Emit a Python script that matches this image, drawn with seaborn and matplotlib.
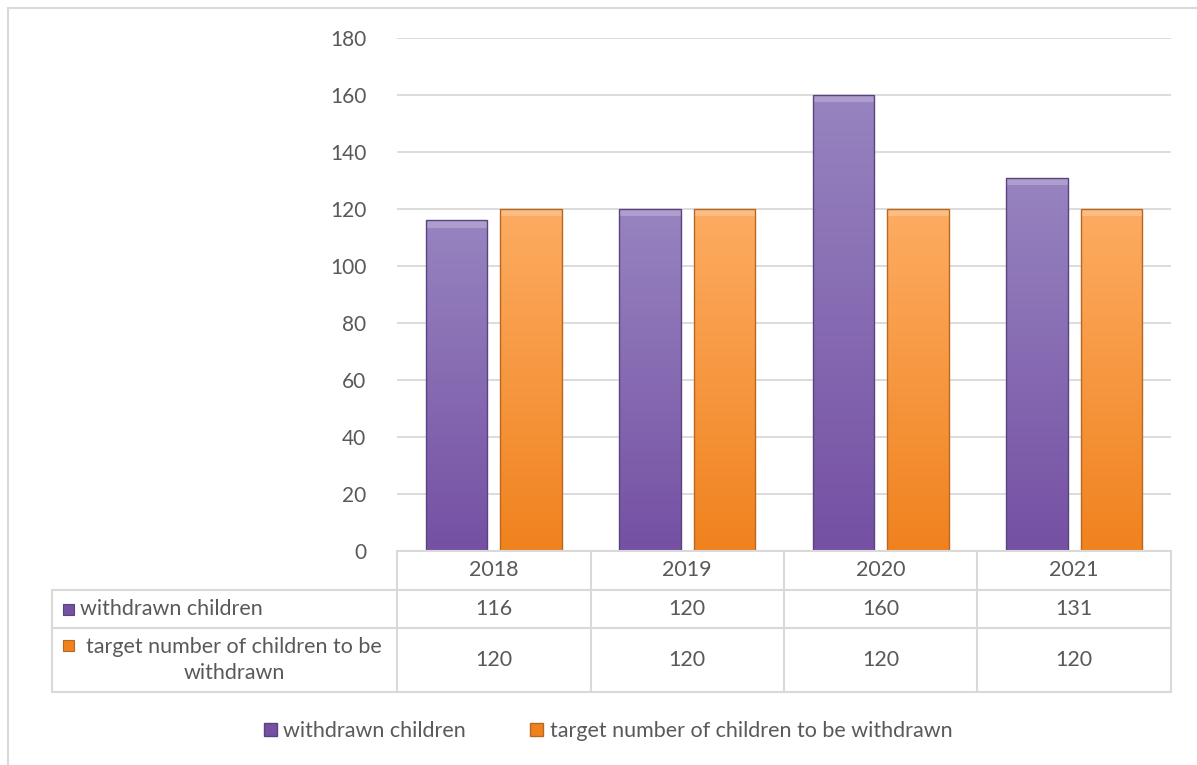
import numpy as np
import pandas as pd
import seaborn as sns
import matplotlib.pyplot as plt
from matplotlib.patches import Rectangle, Patch
from matplotlib.colors import LinearSegmentedColormap, to_rgb
from matplotlib.lines import Line2D
import matplotlib.transforms as mtransforms

# data
years = ['2018', '2019', '2020', '2021']
withdrawn = [116, 120, 160, 131]
target = [120, 120, 120, 120]
series_names = ['withdrawn children', 'target number of children to be withdrawn']
row_labels = ['withdrawn children', 'target number of children to be\nwithdrawn']

purple_top, purple_bot, purple_edge = '#9784c0', '#7550a3', '#5a4480'
orange_top, orange_bot, orange_edge = '#fdac62', '#f0821e', '#b9671f'
grid_col = '#d9d9d9'
txt_col = '#595959'
fs = 15.5

sns.set_theme(style='white')
plt.rcParams['font.family'] = ['Lato', 'DejaVu Sans']

df = pd.DataFrame({
    'year': years * 2,
    'value': withdrawn + target,
    'series': [series_names[0]] * 4 + [series_names[1]] * 4,
})

fig = plt.figure(figsize=(11.97, 7.65), dpi=100)
ax = fig.add_axes([397 / 1197, 1 - 551 / 765, 774 / 1197, 513 / 765])

sns.barplot(data=df, x='year', y='value', hue='series', order=years,
            hue_order=series_names, palette=[purple_bot, orange_bot],
            width=0.77, gap=0.18, ax=ax, legend=False, saturation=1)

ax.set_xlim(-0.5, 3.5)
ax.set_ylim(0, 180)
ax.set_yticks(range(0, 181, 20))
ax.set_axisbelow(True)
ax.yaxis.grid(True, color=grid_col, linewidth=1.3)
ax.tick_params(axis='y', length=0, pad=22, labelsize=15, labelcolor=txt_col)
ax.set_xticks([])
ax.set_xlabel('')
ax.set_ylabel('')
for s in ax.spines.values():
    s.set_visible(False)

# gradient fill for the bars
def grad_cmap(top, bot):
    return LinearSegmentedColormap.from_list('g', [bot, top])

cm_p = grad_cmap(purple_top, purple_bot)
cm_o = grad_cmap(orange_top, orange_bot)
grad = np.linspace(0, 1, 256).reshape(-1, 1)
bars = [p for p in ax.patches if isinstance(p, Rectangle) and p.get_height() > 0]
for p in bars:
    x0, y0 = p.get_x(), p.get_y()
    w, h = p.get_width(), p.get_height()
    is_purple = np.allclose(p.get_facecolor()[:3], to_rgb(purple_bot))
    cm = cm_p if is_purple else cm_o
    edge = purple_edge if is_purple else orange_edge
    im = ax.imshow(grad, cmap=cm, aspect='auto', origin='lower',
                   extent=[x0, x0 + w, y0, y0 + h], zorder=p.get_zorder() + 0.1)
    im.set_clip_path(p)
    # subtle bevel highlight on top
    hl = Rectangle((x0, y0 + h - 2.6), w, 2.6, facecolor='white', alpha=0.22,
                   edgecolor='none', zorder=p.get_zorder() + 0.2)
    ax.add_patch(hl)
    frame = Rectangle((x0, y0), w, h, facecolor='none', edgecolor=edge,
                      linewidth=1.0, zorder=p.get_zorder() + 0.3)
    ax.add_patch(frame)

# data table below the axis
tr = mtransforms.blended_transform_factory(ax.transData, ax.transAxes)
y_rows = [0, -39 / 513, -77 / 513, -141 / 513]
x_left = -0.5 - 345 / 774 * 4
tab_kw = dict(color=grid_col, linewidth=1.5, clip_on=False, transform=tr)
ax.add_line(Line2D([-0.5, 3.5], [0, 0], **tab_kw))
for yy in y_rows[1:]:
    ax.add_line(Line2D([x_left, 3.5], [yy, yy], **tab_kw))
ax.add_line(Line2D([x_left, x_left], [y_rows[1], y_rows[3]], **tab_kw))
for xb in np.arange(-0.5, 3.6, 1.0):
    ax.add_line(Line2D([xb, xb], [0, y_rows[3]], **tab_kw))

for i, yr in enumerate(years):
    ax.text(i, (y_rows[0] + y_rows[1]) / 2, yr, transform=tr, ha='center',
            va='center', fontsize=fs, color=txt_col)
    ax.text(i, (y_rows[1] + y_rows[2]) / 2, str(withdrawn[i]), transform=tr,
            ha='center', va='center', fontsize=fs, color=txt_col)
    ax.text(i, (y_rows[2] + y_rows[3]) / 2, str(target[i]), transform=tr,
            ha='center', va='center', fontsize=fs, color=txt_col)

# row labels with markers (figure pixel coords)
def px(x, y):
    return x / 1197, 1 - y / 765

def marker(xp, yp, bot, edge, size=11):
    x, y = px(xp, yp + size / 2)
    fig.patches.append(Rectangle((x, y), size / 1197, size / 765, transform=fig.transFigure,
                                 facecolor=bot, edgecolor=edge, linewidth=0.8))

marker(63, 609, purple_bot, purple_edge)
fig.text(*px(80, 609), row_labels[0], ha='left', va='center', fontsize=fs, color=txt_col)
marker(63, 645, orange_bot, orange_edge)
fig.text(*px(234, 660), row_labels[1], ha='center', va='center', fontsize=fs,
         color=txt_col, multialignment='center', linespacing=1.35)

# legend
handles = [Patch(facecolor=purple_bot, edgecolor=purple_edge),
           Patch(facecolor=orange_bot, edgecolor=orange_edge)]
fig.legend(handles, series_names, loc='center', bbox_to_anchor=(608 / 1197, 1 - 731 / 765),
           ncol=2, frameon=False, fontsize=fs, labelcolor=txt_col, handlelength=0.6,
           handleheight=0.6, handletextpad=0.3, columnspacing=3.0)

# outer chart frame
fig.add_artist(Line2D([8 / 1197, 8 / 1197], [1 - 8 / 765, 0], color=grid_col, linewidth=1.5))
fig.add_artist(Line2D([8 / 1197, 1], [1 - 8 / 765, 1 - 8 / 765], color=grid_col, linewidth=1.5))

fig.savefig('out.png', dpi=100)
